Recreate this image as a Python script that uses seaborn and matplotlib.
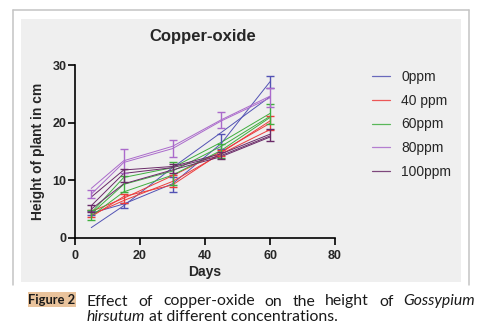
import matplotlib
matplotlib.use("Agg")
import matplotlib.pyplot as plt
from matplotlib.patches import Rectangle
from matplotlib.lines import Line2D
import pandas as pd
import seaborn as sns

# ---- data -------------------------------------------------------------
days = [5, 15, 30, 45, 60]
groups = ["0ppm", "40 ppm", "60ppm", "80ppm", "100ppm"]
colors = ["#5252b4", "#ec3b3b", "#3fae3f", "#aa6acb", "#6a2a68"]

# individual replicate traces, plant height (cm)
ppm0_runs = [[1.8, 5.6, 12.2, 18.3, 24.5],
             [4.3, 5.9, 9.4, 16.4, 27.1]]
ppm40_runs = [[4.6, 6.9, 10.8, 15.0, 19.9],
              [4.0, 6.5, 9.8, 14.6, 18.8],
              [3.7, 7.2, 9.2, 14.8, 20.3]]
ppm60_runs = [[4.4, 10.5, 12.2, 16.6, 21.6],
              [4.2, 9.3, 11.6, 15.9, 21.1],
              [3.8, 8.0, 10.9, 15.2, 20.9]]
ppm80_runs = [[8.6, 13.4, 15.9, 20.5, 24.6],
              [7.6, 13.1, 15.5, 20.3, 24.3]]
ppm100_runs = [[7.1, 11.8, 12.4, 14.6, 18.0],
               [5.6, 11.2, 12.2, 14.3, 17.7],
               [5.0, 9.4, 11.8, 14.1, 17.5]]

# mean and standard deviation shown as error bars
ppm0_mean = [4.3, 5.6, 9.35, 16.75, 27.1]
ppm0_sd = [0.35, 0.45, 1.3, 1.25, 1.05]
ppm40_mean = [4.3, 6.9, 9.9, 14.8, 19.9]
ppm40_sd = [0.6, 0.8, 1.0, 0.5, 1.2]
ppm60_mean = [4.0, 9.35, 11.2, 15.05, 21.5]
ppm60_sd = [0.85, 1.45, 2.0, 1.25, 1.8]
ppm80_mean = [7.65, 13.3, 15.5, 20.45, 24.4]
ppm80_sd = [0.65, 2.1, 1.5, 1.45, 1.6]
ppm100_mean = [5.1, 10.8, 12.1, 14.3, 17.9]
ppm100_sd = [0.6, 1.1, 0.8, 0.6, 1.0]

x_ticks = [0, 20, 40, 60, 80]
y_ticks = [0, 10, 20, 30]

runs = [ppm0_runs, ppm40_runs, ppm60_runs, ppm80_runs, ppm100_runs]
means = [ppm0_mean, ppm40_mean, ppm60_mean, ppm80_mean, ppm100_mean]
sds = [ppm0_sd, ppm40_sd, ppm60_sd, ppm80_sd, ppm100_sd]

rows = []
for g, reps in zip(groups, runs):
    for r, trace in enumerate(reps):
        for d, h in zip(days, trace):
            rows.append({"Days": d, "Height": h, "Group": g, "Run": r})
df = pd.DataFrame(rows)

# ---- figure -----------------------------------------------------------
sns.set_style("ticks")
plt.rcParams["font.family"] = ["Liberation Sans", "DejaVu Sans"]

W, H = 486, 334
fig = plt.figure(figsize=(W / 100, H / 100), dpi=100)
fig.patch.set_facecolor("white")

def fx(px):
    return px / W

def fy(py):
    return 1 - py / H

# grey panel and light frame
fig.patches.append(Rectangle((fx(21), fy(282)), fx(461) - fx(21), fy(19) - fy(282),
                             transform=fig.transFigure, facecolor="#efefef",
                             edgecolor="none", zorder=-10))
for xs, ys in [((13, 469), (10, 10)), ((13, 13), (10, 285)), ((469, 469), (10, 285))]:
    fig.lines.append(Line2D([fx(xs[0]), fx(xs[1])], [fy(ys[0]), fy(ys[1])],
                            transform=fig.transFigure, color="#c4c4c4", lw=1.1))

ax = fig.add_axes([fx(75), fy(238), fx(335) - fx(75), fy(65) - fy(238)])
ax.set_facecolor("none")

palette = dict(zip(groups, colors))
sns.lineplot(data=df, x="Days", y="Height", hue="Group", units="Run",
             estimator=None, palette=palette, lw=0.7, legend=False, ax=ax,
             hue_order=groups)

for c, m, s in zip(colors, means, sds):
    ax.errorbar(days, m, yerr=s, fmt="none", ecolor=c, elinewidth=1.0,
                capsize=3, capthick=1.0)

ax.set_xlim(0, 80)
ax.set_ylim(0, 30)
ax.set_xticks(x_ticks)
ax.set_yticks(y_ticks)
ax.set_xlabel("")
ax.set_ylabel("")
for sp in ["top", "right"]:
    ax.spines[sp].set_visible(False)
for sp in ["left", "bottom"]:
    ax.spines[sp].set_linewidth(1.2)
    ax.spines[sp].set_color("black")
ax.tick_params(axis="both", length=5, width=1.2, color="black", labelsize=9)
ax.tick_params(axis="x", pad=3.5)
ax.tick_params(axis="y", pad=1)
for lab in ax.get_xticklabels() + ax.get_yticklabels():
    lab.set_fontweight("bold")

fig.text(fx(203), fy(37), "Copper-oxide", ha="center", va="center",
         fontsize=12, fontweight="bold")
fig.text(fx(38), fy(151), "Height of plant in cm", ha="center", va="center",
         rotation=90, fontsize=10, fontweight="bold")
fig.text(fx(205), fy(272), "Days", ha="center", va="center",
         fontsize=10, fontweight="bold")

handles = [Line2D([0], [0], color=c, lw=0.9, alpha=0.85) for c in colors]
ax.legend(handles, groups, loc="upper left", bbox_to_anchor=(fx(372), fy(70)),
          bbox_transform=fig.transFigure, frameon=False, fontsize=10,
          handlelength=1.3, handletextpad=0.8, labelspacing=0.7,
          borderpad=0, borderaxespad=0)

# caption
fig.patches.append(Rectangle((fx(28), fy(307)), fx(76) - fx(28), fy(292) - fy(307),
                             transform=fig.transFigure, facecolor="#e9c39c",
                             edgecolor="none"))
fig.text(fx(51.5), fy(299.5), "Figure 2", ha="center", va="center", fontsize=9.3,
         fontweight="bold", family=["Lato", "DejaVu Sans"], color="#1a1a1a")

cap_font = dict(fontsize=11.3, family=["Lato", "DejaVu Sans"], color="#1a1a1a")
line1 = [("Effect", "normal"), ("of", "normal"), ("copper-oxide", "normal"),
         ("on", "normal"), ("the", "normal"), ("height", "normal"),
         ("of", "normal"), ("Gossypium", "italic")]
renderer = fig.canvas.get_renderer()
texts = []
for word, style in line1:
    t = fig.text(0, fy(305.5), word, ha="left", va="baseline", style=style, **cap_font)
    texts.append(t)
widths = [t.get_window_extent(renderer).width for t in texts]
x0, x1 = 87, 475
gap = (x1 - x0 - sum(widths)) / (len(texts) - 1)
x = x0
for t, w in zip(texts, widths):
    t.set_x(fx(x))
    x += w + gap

t2 = fig.text(fx(87), fy(321), "hirsutum", ha="left", va="baseline",
              style="italic", **cap_font)
w2 = t2.get_window_extent(renderer).width
fig.text(fx(87) + w2 / W, fy(321), " at different concentrations.", ha="left",
         va="baseline", **cap_font)

fig.savefig("out.png", dpi=100)
